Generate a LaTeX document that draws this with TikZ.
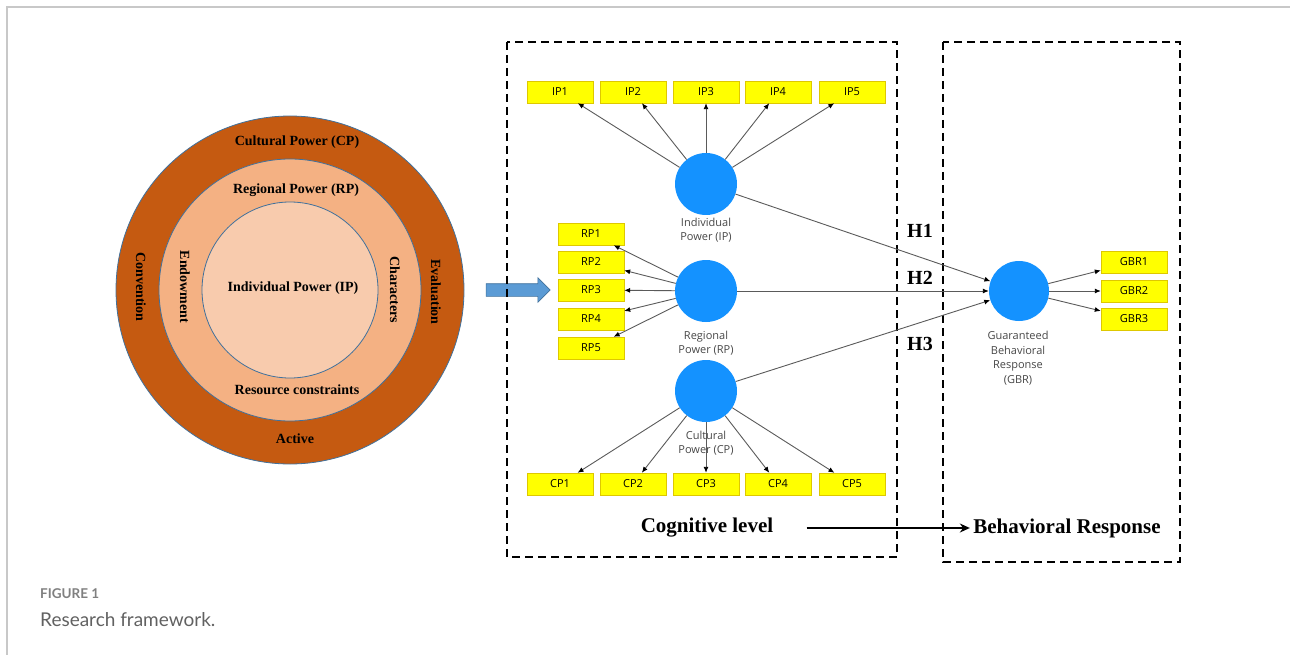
\documentclass[tikz,border=0pt]{standalone}
\usepackage{fontspec}
\setmainfont{Liberation Serif}
\newfontfamily\boxfont{Open Sans}
\newfontfamily\capfont{Lato}
\usetikzlibrary{arrows.meta,shapes.arrows}

\definecolor{outerring}{RGB}{197,90,17}
\definecolor{middlering}{RGB}{244,177,131}
\definecolor{innerring}{RGB}{248,203,173}
\definecolor{ringline}{RGB}{65,113,156}
\definecolor{latent}{RGB}{20,146,255}
\definecolor{itemfill}{RGB}{255,255,0}
\definecolor{itemline}{RGB}{222,200,0}
\definecolor{linkgray}{RGB}{90,90,90}
\definecolor{fatarrow}{RGB}{91,155,213}
\definecolor{frameline}{RGB}{200,200,200}

\begin{document}
\begin{tikzpicture}[x=1pt, y=-1pt,
    ring/.style={circle, draw=ringline, line width=0.8pt, inner sep=0pt},
    ringtext/.style={font=\fontsize{14}{16}\selectfont\bfseries},
    item/.style={draw=itemline, fill=itemfill, rectangle, minimum width=66pt, minimum height=22pt, inner sep=0pt, font=\boxfont\fontsize{11}{12}\selectfont},
    factor/.style={circle, fill=latent, minimum size=62pt, inner sep=0pt},
    factorlabel/.style={text=black!72, align=center, font=\boxfont\fontsize{11}{14.5}\selectfont},
    link/.style={draw=linkgray, line width=0.9pt, -{Latex[length=6pt,width=5pt,black]}},
    hlabel/.style={font=\fontsize{20}{22}\selectfont\bfseries},
    levelbox/.style={draw=black, line width=2.5pt, dash pattern=on 8pt off 5pt},
    leveltext/.style={font=\fontsize{21}{24}\selectfont\bfseries}]

    \useasboundingbox (0,0) rectangle (1290,655);
    \draw[frameline, line width=1.5pt] (7,655) -- (7,7) -- (1290,7);

    \node[ring, fill=outerring, minimum size=348pt] (outer) at (290,290) {};
    \node[ring, fill=middlering, minimum size=262pt] (middle) at (290,290) {};
    \node[ring, fill=innerring, minimum size=176pt] (inner) at (290,290) {};

    \node[ringtext] (cptext) at (297,142) {Cultural Power (CP)};
    \node[ringtext] (rptext) at (296,190) {Regional Power (RP)};
    \node[ringtext] (iptext) at (293,288) {Individual Power (IP)};
    \node[ringtext] (restext) at (297,390) {Resource constraints};
    \node[ringtext] (acttext) at (295,439) {Active};
    \node[ringtext, rotate=-90] (convtext) at (141,287) {Convention};
    \node[ringtext, rotate=-90] (endtext) at (185,287) {Endowment};
    \node[ringtext, rotate=-90] (chartext) at (395,290) {Characters};
    \node[ringtext, rotate=-90] (evaltext) at (436,292) {Evaluation};

    \node[single arrow, draw=ringline, fill=fatarrow, line width=0.6pt, minimum height=64pt, inner xsep=0pt, inner ysep=6pt, single arrow head extend=6pt, single arrow head indent=0pt] (bigarrow) at (515,290) {};

    \draw[levelbox] (507,42) rectangle (897,557);
    \draw[levelbox] (943,42) rectangle (1180,562);

    \node[item] (ip1) at (560,92) {IP1};
    \node[item] (ip2) at (633,92) {IP2};
    \node[item] (ip3) at (706,92) {IP3};
    \node[item] (ip4) at (778,92) {IP4};
    \node[item] (ip5) at (852,92) {IP5};

    \node[item] (rp1) at (591,234) {RP1};
    \node[item] (rp2) at (591,262) {RP2};
    \node[item] (rp3) at (591,290) {RP3};
    \node[item] (rp4) at (591,319) {RP4};
    \node[item] (rp5) at (591,348) {RP5};

    \node[item] (cp1) at (560,484) {CP1};
    \node[item] (cp2) at (633,484) {CP2};
    \node[item] (cp3) at (706,484) {CP3};
    \node[item] (cp4) at (778,484) {CP4};
    \node[item] (cp5) at (852,484) {CP5};

    \node[item] (gbr1) at (1134,262) {GBR1};
    \node[item] (gbr2) at (1134,291) {GBR2};
    \node[item] (gbr3) at (1134,319) {GBR3};

    \node[factor] (ip) at (706,184) {};
    \node[factor] (rp) at (706,291) {};
    \node[factor] (cp) at (706,391) {};
    \node[factor, minimum size=60pt] (gbr) at (1019,291) {};

    \node[factorlabel] (iplabel) at (706,230) {Individual\\Power (IP)};
    \node[factorlabel] (rplabel) at (706,343) {Regional\\Power (RP)};
    \node[factorlabel] (cplabel) at (706,443) {Cultural\\Power (CP)};
    \node[factorlabel] (gbrlabel) at (1018,358) {Guaranteed\\Behavioral\\Response\\(GBR)};

    \draw[link] (ip) -- (ip1);
    \draw[link] (ip) -- (ip2);
    \draw[link] (ip) -- (ip3);
    \draw[link] (ip) -- (ip4);
    \draw[link] (ip) -- (ip5);

    \draw[link] (rp) -- (rp1);
    \draw[link] (rp) -- (rp2);
    \draw[link] (rp) -- (rp3);
    \draw[link] (rp) -- (rp4);
    \draw[link] (rp) -- (rp5);

    \draw[link] (cp) -- (cp1);
    \draw[link] (cp) -- (cp2);
    \draw[link] (cp) -- (cp3);
    \draw[link] (cp) -- (cp4);
    \draw[link] (cp) -- (cp5);

    \draw[link] (gbr) -- (gbr1);
    \draw[link] (gbr) -- (gbr2);
    \draw[link] (gbr) -- (gbr3);

    \draw[link] (ip) -- (gbr);
    \draw[link] (rp) -- (gbr);
    \draw[link] (cp) -- (gbr);

    \node[hlabel] (h1) at (920,231) {H1};
    \node[hlabel] (h2) at (920,278) {H2};
    \node[hlabel] (h3) at (920,344) {H3};

    \node[leveltext] (cog) at (707,528) {Cognitive level};
    \node[leveltext] (beh) at (1067,528) {Behavioral Response};
    \draw[line width=2pt, -{Stealth[length=10pt,width=9pt]}] ([xshift=30pt]cog.east) -- (beh.west);

    \node[anchor=west, inner sep=0pt, text=black!50, font=\capfont\bfseries\fontsize{13.5}{15}\selectfont] (figno) at (40,594) {FIGURE 1};
    \node[anchor=west, inner sep=0pt, text=black!62, font=\capfont\fontsize{19}{22}\selectfont] (caption) at (40,620) {Research framework.};

\end{tikzpicture}
\end{document}
